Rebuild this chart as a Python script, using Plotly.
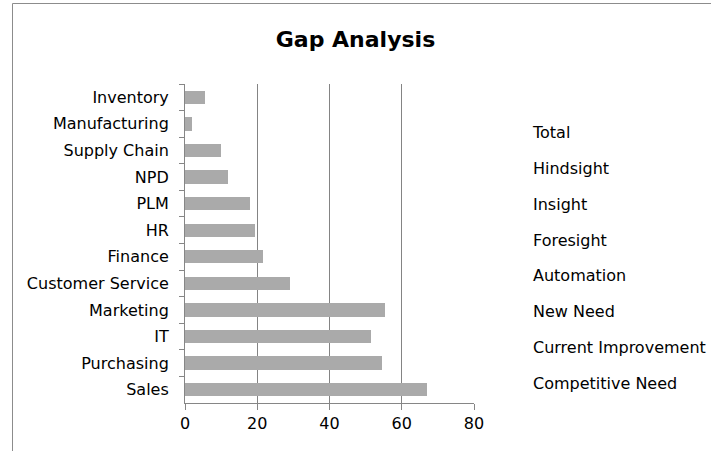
import plotly.graph_objects as go

categories = ["Inventory", "Manufacturing", "Supply Chain", "NPD", "PLM", "HR",
              "Finance", "Customer Service", "Marketing", "IT", "Purchasing", "Sales"]
totals = [5.5, 2, 10, 12, 18, 19.5, 21.5, 29, 55.5, 51.5, 54.5, 67]
legend_names = ["Total", "Hindsight", "Insight", "Foresight", "Automation",
                "New Need", "Current Improvement", "Competitive Need"]
x_ticks = [0, 20, 40, 60, 80]

FONT = "DejaVu Sans, Verdana, sans-serif"

fig = go.Figure()
fig.add_trace(go.Bar(
    y=categories, x=totals, orientation="h", name="Total",
    marker=dict(color="#aaaaaa", line=dict(width=0)),
    showlegend=False, hoverinfo="x+y",
))
for i, nm in enumerate(legend_names):
    fig.add_trace(go.Bar(
        y=[None], x=[None], orientation="h", name=nm,
        legendgroup=f"g{i}",
        marker=dict(color="rgba(0,0,0,0)", line=dict(width=0)),
    ))

W, H = 711, 451
L, R, T, B = 185, 474, 84, 403
pw, ph = R - L, B - T

fig.update_layout(
    width=W, height=H,
    margin=dict(l=L, r=W - R, t=T, b=H - B, pad=0, autoexpand=False),
    paper_bgcolor="white", plot_bgcolor="white",
    font=dict(family=FONT, size=16, color="#000000"),
    title=dict(text="<b>Gap Analysis</b>", x=0.5, xref="container", xanchor="center",
               y=1 - 39 / H, yanchor="middle",
               font=dict(family=FONT, size=22, color="#000000")),
    barmode="stack", bargap=0.5,
    showlegend=True,
    legend=dict(x=(493 - L) / pw, y=(B - 115) / ph, xanchor="left", yanchor="top",
                traceorder="grouped", tracegroupgap=12,
                font=dict(family=FONT, size=16, color="#000000"),
                bgcolor="rgba(0,0,0,0)", itemwidth=30),
    xaxis=dict(range=[0, 80], tickvals=x_ticks, showgrid=True, gridcolor="#848484",
               gridwidth=1, zeroline=False, showline=True, linecolor="#868686",
               linewidth=1, ticks="outside", ticklen=6, tickcolor="#868686",
               tickfont=dict(family=FONT, size=16), fixedrange=True, automargin=False),
    yaxis=dict(categoryorder="array", categoryarray=categories, autorange="reversed",
               showgrid=False, zeroline=False, showline=True, linecolor="#868686",
               linewidth=1, ticks="outside", ticklen=5, tickcolor="#868686",
               tickson="boundaries", ticklabelstandoff=12,
               tickfont=dict(family=FONT, size=16), fixedrange=True, automargin=False),
    shapes=[
        dict(type="line", xref="paper", yref="paper",
             x0=(12.5 - L) / pw, x1=(12.5 - L) / pw,
             y0=(B - 460) / ph, y1=(B - 3.5) / ph,
             line=dict(color="#8c8c8c", width=1), layer="below"),
        dict(type="line", xref="paper", yref="paper",
             x0=(12.5 - L) / pw, x1=(720 - L) / pw,
             y0=(B - 3.5) / ph, y1=(B - 3.5) / ph,
             line=dict(color="#8c8c8c", width=1), layer="below"),
    ],
)

fig.write_html("out.html", config={"displayModeBar": False},
               post_script="document.body.style.margin='0';")
